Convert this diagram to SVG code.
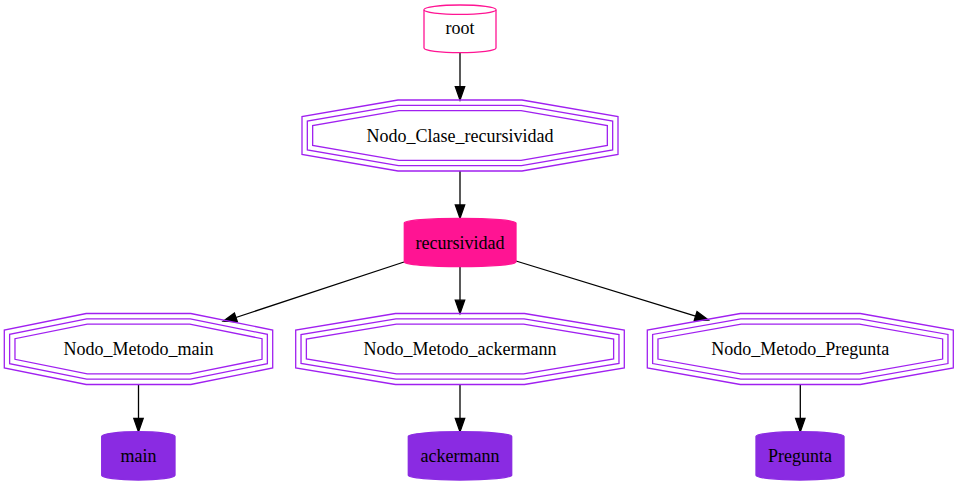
<svg xmlns="http://www.w3.org/2000/svg" width="958" height="485" viewBox="0 0 958 485">
<style>
  .oct { fill: none; stroke: #a020f0; stroke-width: 1.3; }
  .octbg { fill: #ffffff; stroke: none; }
  .lbl { font-family: "Liberation Serif", "Times New Roman", serif; font-size: 18px; fill: #000000; text-anchor: middle; }
  .edge { fill: none; stroke: #000000; stroke-width: 1.3; }
  .head { fill: #000000; stroke: #000000; stroke-width: 1.3; }
  .cylw { fill: #ffffff; stroke: #ff1493; stroke-width: 1.3; }
  .cylp { fill: #ff1493; stroke: #ff1493; stroke-width: 1.3; }
  .cylv { fill: #8a2be2; stroke: #8a2be2; stroke-width: 1.3; }
</style>
<rect width="958" height="485" fill="#ffffff"/>

<g id="connectors">
  <line class="edge" x1="460" y1="52.7" x2="460" y2="86.7"/>
  <polygon class="head" points="460,100 455.3,86.7 464.7,86.7"/>
  <line class="edge" x1="460" y1="171" x2="460" y2="205"/>
  <polygon class="head" points="460,218.3 455.3,205 464.7,205"/>
  <line class="edge" x1="460" y1="266.7" x2="460" y2="300.2"/>
  <polygon class="head" points="460,313.5 455.3,300.2 464.7,300.2"/>
  <line class="edge" x1="404" y1="262" x2="235.9" y2="317.5"/>
  <polygon class="head" points="223.3,321.2 237.4,321.9 234.4,313.1"/>
  <line class="edge" x1="516" y1="261" x2="695.6" y2="316.1"/>
  <polygon class="head" points="708.3,320 694.2,320.5 697,311.6"/>
  <line class="edge" x1="138.5" y1="384.5" x2="138.5" y2="418.4"/>
  <polygon class="head" points="138.5,431.7 133.8,418.4 143.2,418.4"/>
  <line class="edge" x1="460" y1="384.5" x2="460" y2="418.4"/>
  <polygon class="head" points="460,431.7 455.3,418.4 464.7,418.4"/>
  <line class="edge" x1="800.3" y1="384.5" x2="800.3" y2="418.4"/>
  <polygon class="head" points="800.3,431.7 795.6,418.4 805,418.4"/>
</g>

<g id="root">
  <path class="cylw" d="M424,9.7 A36,4.7 0 0 1 496,9.7 V48 A36,4.7 0 0 1 424,48 Z"/>
  <path class="cylw" fill="none" d="M424,9.7 A36,4.7 0 0 0 496,9.7"/>
  <text class="lbl" x="460" y="34">root</text>
</g>

<g id="Nodo_Clase_recursividad">
  <polygon class="oct" points="398,100 522,100 618,116.5 618,154.5 522,171 398,171 302,154.5 302,116.5"/>
  <polygon class="oct" points="398.46,105.33 521.54,105.33 612.67,120.99 612.67,150.01 521.54,165.67 398.46,165.67 307.33,150.01 307.33,120.99"/>
  <polygon class="oct" points="398.91,110.67 521.09,110.67 607.33,125.5 607.33,145.5 521.09,160.33 398.91,160.33 312.67,145.5 312.67,125.5"/>
  <text class="lbl" x="460" y="141.5">Nodo_Clase_recursividad</text>
</g>

<g id="recursividad">
  <path class="cylp" d="M404.3,223 A55.85,4.7 0 0 1 516,223 V262 A55.85,4.7 0 0 1 404.3,262 Z"/>
  <text class="lbl" x="460" y="248.5">recursividad</text>
</g>

<g id="Nodo_Metodo_main">
  <polygon class="oct" points="86.2,313.5 190.8,313.5 272.7,330 272.7,368 190.8,384.5 86.2,384.5 4.3,368 4.3,330"/>
  <polygon class="oct" points="86.73,318.83 190.27,318.83 267.37,334.36 267.37,363.64 190.27,379.17 86.73,379.17 9.63,363.64 9.63,334.36"/>
  <polygon class="oct" points="87.27,324.17 189.73,324.17 262.03,338.73 262.03,359.27 189.73,373.83 87.27,373.83 14.97,359.27 14.97,338.73"/>
  <text class="lbl" x="138.5" y="355">Nodo_Metodo_main</text>
</g>

<g id="Nodo_Metodo_ackermann">
  <polygon class="oct" points="395.5,313.5 524.5,313.5 624.3,330 624.3,368 524.5,384.5 395.5,384.5 295.7,368 295.7,330"/>
  <polygon class="oct" points="395.94,318.83 524.06,318.83 618.97,334.52 618.97,363.48 524.06,379.17 395.94,379.17 301.03,363.48 301.03,334.52"/>
  <polygon class="oct" points="396.38,324.17 523.62,324.17 613.63,339.05 613.63,358.95 523.62,373.83 396.38,373.83 306.37,358.95 306.37,339.05"/>
  <text class="lbl" x="460" y="355">Nodo_Metodo_ackermann</text>
</g>

<g id="Nodo_Metodo_Pregunta">
  <polygon class="oct" points="740.3,313.5 860.3,313.5 953.3,330 953.3,368 860.3,384.5 740.3,384.5 647.3,368 647.3,330"/>
  <polygon class="oct" points="740.77,318.83 859.83,318.83 947.97,334.47 947.97,363.53 859.83,379.17 740.77,379.17 652.63,363.53 652.63,334.47"/>
  <polygon class="oct" points="741.24,324.17 859.36,324.17 942.63,338.94 942.63,359.06 859.36,373.83 741.24,373.83 657.97,359.06 657.97,338.94"/>
  <text class="lbl" x="800.3" y="355">Nodo_Metodo_Pregunta</text>
</g>

<g id="main">
  <path class="cylv" d="M101.7,436.4 A36.65,4.7 0 0 1 175,436.4 V475.3 A36.65,4.7 0 0 1 101.7,475.3 Z"/>
  <text class="lbl" x="138.4" y="462">main</text>
</g>

<g id="ackermann">
  <path class="cylv" d="M408.3,436.4 A51.7,4.7 0 0 1 511.7,436.4 V475.3 A51.7,4.7 0 0 1 408.3,475.3 Z"/>
  <text class="lbl" x="460" y="462">ackermann</text>
</g>

<g id="Pregunta">
  <path class="cylv" d="M756,436.4 A44,4.7 0 0 1 844,436.4 V475.3 A44,4.7 0 0 1 756,475.3 Z"/>
  <text class="lbl" x="800" y="462">Pregunta</text>
</g>
</svg>
